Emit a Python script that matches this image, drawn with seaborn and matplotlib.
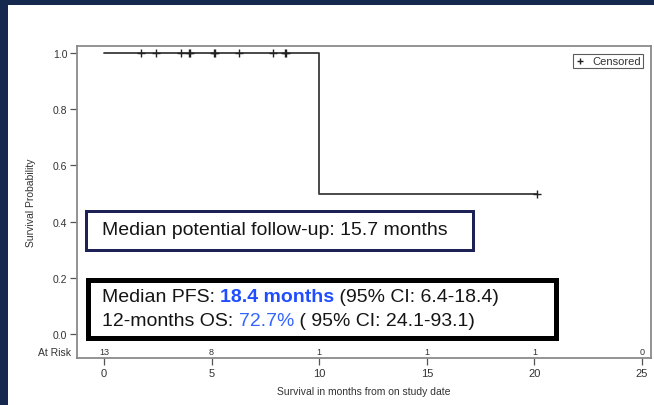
import numpy as np
import pandas as pd
import matplotlib
matplotlib.use("Agg")
import matplotlib.pyplot as plt
from matplotlib.patches import Rectangle
from matplotlib.text import Annotation
import seaborn as sns

# Patient follow-up (months) and event flag (1 = progression, 0 = censored)
times = [1.72, 2.42, 3.56, 3.95, 4.0, 5.1, 5.16, 6.27, 7.87, 8.4, 8.45, 10.0, 20.1]
events = [0, 0, 0, 0, 0, 0, 0, 0, 0, 0, 0, 1, 0]

# Numbers at risk shown under the curve
risk_times = [0, 5, 10, 15, 20, 25]
risk_counts = [13, 8, 1, 1, 1, 0]

x_ticks = [0, 5, 10, 15, 20, 25]
y_ticks = [0.0, 0.2, 0.4, 0.6, 0.8, 1.0]

# Kaplan-Meier estimate
df = pd.DataFrame({"time": times, "event": events}).sort_values("time")
surv = 1.0
step_x, step_y = [0.0], [1.0]
cens_x, cens_y = [], []
n_at_risk = len(df)
for t, grp in df.groupby("time"):
    d = grp["event"].sum()
    c = len(grp) - d
    if d > 0:
        surv *= 1 - d / n_at_risk
        step_x.append(t)
        step_y.append(surv)
    if c > 0:
        cens_x.extend([t] * c)
        cens_y.extend([surv] * c)
    n_at_risk -= len(grp)
step_x.append(df["time"].max())
step_y.append(surv)

sns.set_theme(style="white")
plt.rcParams["font.family"] = ["Liberation Sans", "DejaVu Sans"]

W, H = 654, 406
fig = plt.figure(figsize=(W / 100, H / 100), dpi=100)
fig.patch.set_facecolor("white")

# dark frame around the slide
navy = "#14294d"
fig.patches.append(Rectangle((0, 1 - 6 / H), 1, 6 / H, transform=fig.transFigure,
                             facecolor=navy, edgecolor="none", zorder=0))
fig.patches.append(Rectangle((0, 0), 8 / W, 1, transform=fig.transFigure,
                             facecolor=navy, edgecolor="none", zorder=0))

left, right, top, bottom = 77, 651, 47, 359
ax = fig.add_axes([left / W, 1 - bottom / H, (right - left) / W, (bottom - top) / H])

px_per_month = (642 - 104) / 25
y0_px, y1_px = 335, 54
px_per_unit = y0_px - y1_px
ax.set_xlim((left - 104) / px_per_month, (right - 104) / px_per_month)
ax.set_ylim((y0_px - bottom) / px_per_unit, (y0_px - top) / px_per_unit)

curve = pd.DataFrame({"t": step_x, "s": step_y})
sns.lineplot(data=curve, x="t", y="s", drawstyle="steps-post", estimator=None,
             color="#3a3a3a", linewidth=1.3, ax=ax)
cens = pd.DataFrame({"t": cens_x, "s": cens_y})
sns.scatterplot(data=cens, x="t", y="s", marker="+", s=30, linewidth=1.0,
                color="#222222", ax=ax, label="Censored", zorder=3)

leg = ax.legend(loc="upper right", frameon=True, fancybox=False, fontsize=8,
                handlelength=0.8, handletextpad=0.7, borderpad=0.2,
                borderaxespad=0.7, markerscale=0.9)
leg.get_frame().set_edgecolor("#333333")
leg.get_frame().set_linewidth(0.8)
for t in leg.get_texts():
    t.set_color("#333333")

for sp in ax.spines.values():
    sp.set_color("#8a8a8a")
    sp.set_linewidth(1.3)

ax.set_xticks(x_ticks)
ax.set_yticks(y_ticks)
ax.set_yticklabels([f"{v:.1f}" for v in y_ticks])
ax.tick_params(axis="both", direction="out", length=5, width=0.9, color="#555555",
               labelsize=7.5, labelcolor="#333333", pad=2)
ax.tick_params(axis="x", labelsize=8)
ax.tick_params(bottom=True, left=True)
ax.set_xlabel("Survival in months from on study date", fontsize=7.5, color="#333333", labelpad=6)
ax.set_ylabel("Survival Probability", fontsize=7.5, color="#333333", labelpad=12)

# numbers at risk row
risk_y = (y0_px - 353) / px_per_unit
for rt, rc in zip(risk_times, risk_counts):
    ax.text(rt, risk_y, str(rc), ha="center", va="center", fontsize=6.5, color="#333333")
ax.text(-0.01, risk_y, "At Risk", ha="right", va="center", fontsize=7.5,
        color="#333333", transform=ax.get_yaxis_transform())


def fig_box(x0, y0, x1, y1, lw_px, color):
    fig.patches.append(Rectangle((x0 / W, 1 - y1 / H), (x1 - x0) / W, (y1 - y0) / H,
                                 transform=fig.transFigure, facecolor="white",
                                 edgecolor=color, linewidth=lw_px * 0.72, zorder=5))


def chain(prev, text, **kw):
    # place a text run directly after the previous run on the same line
    return fig.add_artist(Annotation(text, xy=(1, 0), xycoords=prev, va="bottom",
                                     ha="left", fontsize=14, zorder=6, **kw))


dark = "#151515"

# follow-up box
fig_box(85.5, 211.5, 473.5, 250.5, 3, "#1e2156")
fig.text(102 / W, 1 - 231 / H, "Median potential follow-up: 15.7 months",
         fontsize=14, color=dark, va="center", ha="left", zorder=6)

# PFS / OS box
fig_box(87.5, 280.5, 555.5, 338.5, 5, "#000000")
t1 = fig.text(102 / W, 1 - 297 / H, "Median PFS: ", fontsize=14, color=dark,
              va="center", ha="left", zorder=6)
t2 = chain(t1, "18.4 months", color="#1f4dff", fontweight="bold")
t3 = chain(t2, " (95% CI: 6.4-18.4)", color=dark)

s1 = fig.text(102 / W, 1 - 322 / H, "12-months OS: ", fontsize=14, color=dark,
              va="center", ha="left", zorder=6)
s2 = chain(s1, "72.7%", color="#3366ff")
s3 = chain(s2, " ( 95% CI: 24.1-93.1)", color=dark)

fig.savefig("out.png", dpi=100, facecolor="white")
